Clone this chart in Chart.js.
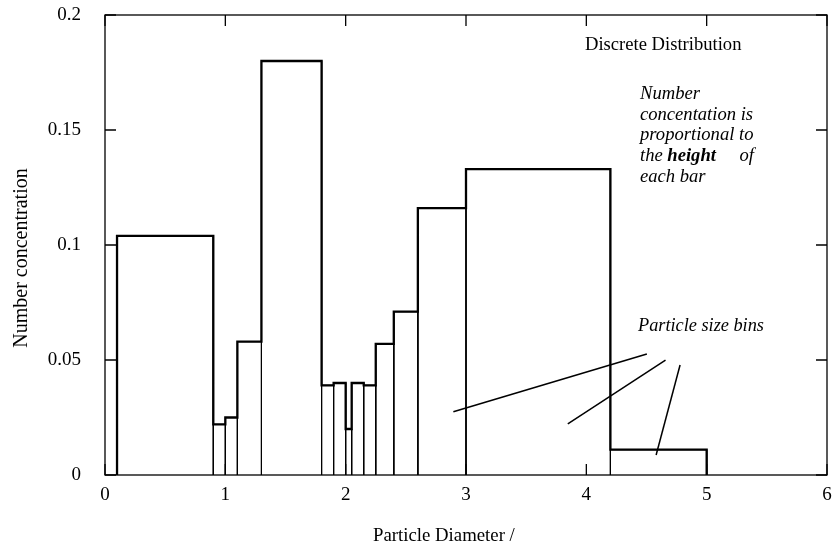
<!DOCTYPE html>
<html>
<head>
<meta charset="utf-8">
<script src="https://cdn.jsdelivr.net/npm/chart.js@4.4.1/dist/chart.umd.min.js"></script>
<style>
  html, body { margin: 0; padding: 0; background: #fff; }
  canvas { display: block; }
</style>
</head>
<body>
<canvas id="distChart" width="835" height="550"></canvas>
<script>
// === DATA ===
const binEdges = [0.1, 0.9, 1.0, 1.1, 1.3, 1.8, 1.9, 2.0, 2.05, 2.15, 2.25, 2.4, 2.6, 3.0, 4.2, 5.0];
const binHeights = [0.104, 0.022, 0.025, 0.058, 0.180, 0.039, 0.040, 0.020, 0.040, 0.039, 0.057, 0.071, 0.116, 0.133, 0.011];
const xTicks = [0, 1, 2, 3, 4, 5, 6];
const yTicks = [0, 0.05, 0.1, 0.15, 0.2];
const yTickLabels = ["0", "0.05", "0.1", "0.15", "0.2"];
// leader lines from the "Particle size bins" note (start in a bin, end near the note)
const pointerFrom = [[2.895, 0.0275], [3.846, 0.0222], [4.580, 0.0087]];
const pointerTo = [[4.503, 0.0526], [4.658, 0.0499], [4.779, 0.0478]];

const serif = "'Liberation Serif', 'Times New Roman', serif";

// thin rectangle for every bin, separated by gaps
function buildBinRects() {
  const pts = [];
  binHeights.forEach((h, i) => {
    const l = binEdges[i];
    const r = binEdges[i + 1];
    pts.push({ x: l, y: 0 }, { x: l, y: h }, { x: r, y: h }, { x: r, y: 0 }, { x: r, y: null });
  });
  return pts;
}

// thick outline over the tops
function buildOutline() {
  const pts = [{ x: binEdges[0], y: 0 }];
  binHeights.forEach((h, i) => {
    pts.push({ x: binEdges[i], y: h }, { x: binEdges[i + 1], y: h });
  });
  pts.push({ x: binEdges[binEdges.length - 1], y: 0 });
  return pts;
}

const lineStyle = { borderColor: "#000", pointRadius: 0, tension: 0, fill: false, spanGaps: false, clip: false };

const datasets = [
  { ...lineStyle, label: "bins", data: buildBinRects(), borderWidth: 1 },
  { ...lineStyle, label: "outline", data: buildOutline(), borderWidth: 2.3, borderJoinStyle: "miter" }
];
pointerFrom.forEach((p, i) => {
  datasets.push({
    ...lineStyle,
    label: `pointer${i}`,
    data: [{ x: p[0], y: p[1] }, { x: pointerTo[i][0], y: pointerTo[i][1] }],
    borderWidth: 1.5
  });
});

// frame, inward ticks and notes
const decorPlugin = {
  id: "decor",
  afterDraw(chart) {
    const { ctx, chartArea: a, scales } = chart;
    const tick = 11;
    ctx.save();
    ctx.strokeStyle = "#000";
    ctx.lineWidth = 1.3;
    ctx.strokeRect(a.left, a.top, a.right - a.left, a.bottom - a.top);

    ctx.beginPath();
    xTicks.forEach(v => {
      const px = scales.x.getPixelForValue(v);
      ctx.moveTo(px, a.bottom); ctx.lineTo(px, a.bottom - tick);
      ctx.moveTo(px, a.top); ctx.lineTo(px, a.top + tick);
    });
    yTicks.forEach(v => {
      const py = scales.y.getPixelForValue(v);
      ctx.moveTo(a.left, py); ctx.lineTo(a.left + tick, py);
      ctx.moveTo(a.right, py); ctx.lineTo(a.right - tick, py);
    });
    ctx.stroke();

    ctx.fillStyle = "#000";
    ctx.textBaseline = "alphabetic";
    ctx.textAlign = "left";

    ctx.font = `18.6px ${serif}`;
    ctx.fillText("Discrete Distribution", 585, 50);

    ctx.font = `italic 18.6px ${serif}`;
    const noteX = 640;
    const noteY = 99;
    const step = 20.7;
    ctx.fillText("Number", noteX, noteY);
    ctx.fillText("concentation is", noteX, noteY + step);
    ctx.fillText("proportional to", noteX, noteY + step * 2);
    ctx.fillText("the ", noteX, noteY + step * 3);
    const theW = ctx.measureText("the ").width;
    ctx.font = `italic bold 18.6px ${serif}`;
    ctx.fillText("height", noteX + theW, noteY + step * 3);
    ctx.font = `italic 18.6px ${serif}`;
    ctx.textAlign = "right";
    ctx.fillText("of", 754, noteY + step * 3);
    ctx.textAlign = "left";
    ctx.fillText("each bar", noteX, noteY + step * 4);

    ctx.font = `italic 18.3px ${serif}`;
    ctx.fillText("Particle size bins", 638, 331);

    ctx.font = `18.8px ${serif}`;
    ctx.fillText("Particle Diameter /", 373, 541);

    ctx.save();
    ctx.translate(27, 258);
    ctx.rotate(-Math.PI / 2);
    ctx.textAlign = "center";
    ctx.font = `20px ${serif}`;
    ctx.fillText("Number concentration", 0, 0);
    ctx.restore();

    ctx.restore();
  }
};

// === CHART ===
new Chart(document.getElementById("distChart"), {
  type: "line",
  data: { datasets },
  options: {
    responsive: false,
    animation: false,
    events: [],
    layout: { padding: { top: 15, right: 8, left: 0, bottom: 0 } },
    plugins: {
      legend: { display: false },
      tooltip: { enabled: false }
    },
    scales: {
      x: {
        type: "linear",
        min: 0,
        max: 6,
        afterBuildTicks: scale => { scale.ticks = xTicks.map(v => ({ value: v })); },
        afterFit: scale => {
          scale.height = 75;
          scale.paddingLeft = 0;
          scale.paddingRight = 0;
        },
        grid: { display: false, drawTicks: false },
        border: { display: false },
        ticks: {
          color: "#000",
          padding: 9,
          maxRotation: 0,
          font: { family: serif, size: 19 },
          callback: v => String(v)
        }
      },
      y: {
        type: "linear",
        min: 0,
        max: 0.2,
        afterBuildTicks: scale => { scale.ticks = yTicks.map(v => ({ value: v })); },
        afterFit: scale => {
          scale.width = 105;
          scale.paddingTop = 0;
          scale.paddingBottom = 0;
        },
        grid: { display: false, drawTicks: false },
        border: { display: false },
        ticks: {
          color: "#000",
          padding: 24,
          font: { family: serif, size: 19 },
          callback: v => yTickLabels[yTicks.indexOf(v)] ?? ""
        }
      }
    }
  },
  plugins: [decorPlugin]
});
</script>
</body>
</html>
